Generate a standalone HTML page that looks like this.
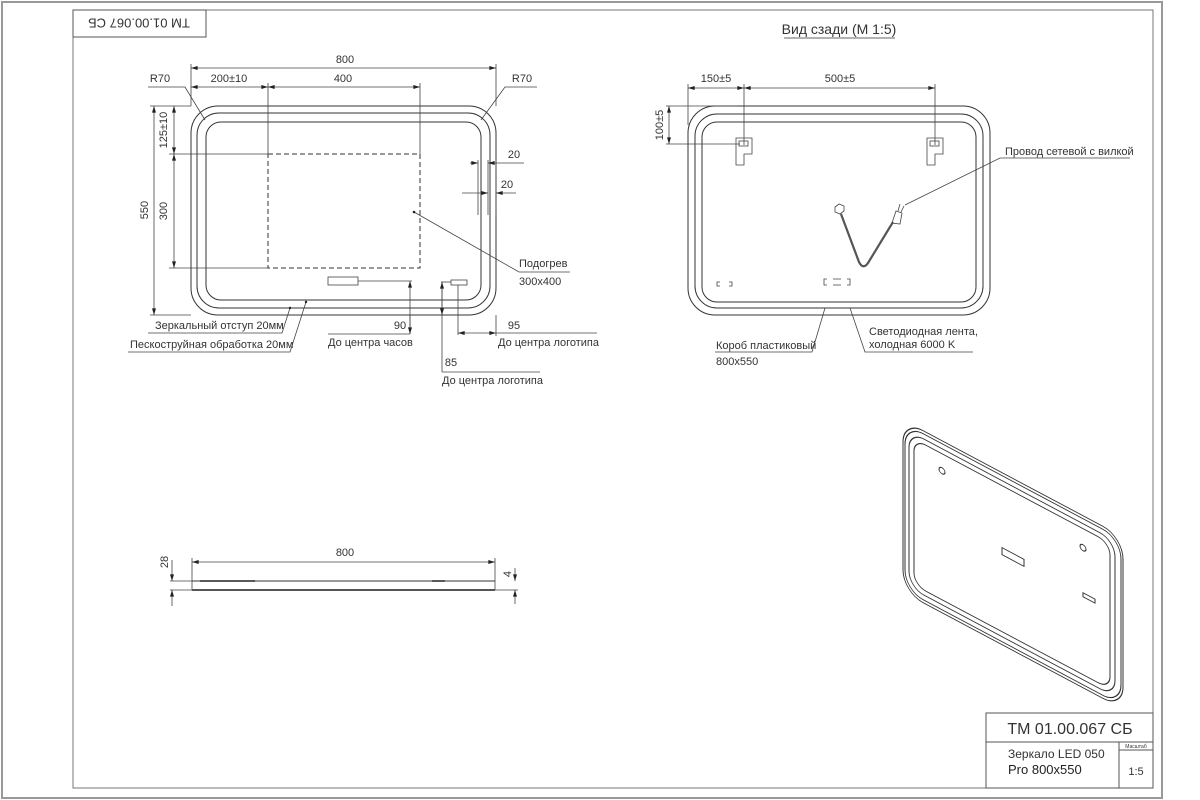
<!DOCTYPE html>
<html><head><meta charset="utf-8"><style>
html,body{margin:0;padding:0;background:#fff;}
svg{display:block;}
text{font-family:"Liberation Sans Narrow","Liberation Sans",sans-serif;fill:#333;}
</style></head><body>
<svg width="1200" height="800" viewBox="0 0 1200 800" xmlns="http://www.w3.org/2000/svg" font-size="11">
<defs>
<marker id="a" viewBox="0 0 10 6" refX="10" refY="3" markerWidth="8" markerHeight="4" orient="auto-start-reverse" markerUnits="userSpaceOnUse"><path d="M0,0L10,3L0,6z" fill="#222"/></marker>
</defs>
<g fill="none" stroke="#555" stroke-width="1">
<rect x="2" y="2" width="1160" height="796" stroke="#999" stroke-width="2"/>
<rect x="73" y="10" width="1080" height="778" stroke="#777"/>
<rect x="73" y="10" width="133" height="27"/>
</g>
<text x="139" y="24" style="font-size:13px" text-anchor="middle" dominant-baseline="middle" transform="rotate(180 139 23)">ТМ 01.00.067 СБ</text>

<!-- FRONT VIEW -->
<g fill="none" stroke="#333" stroke-width="1">
<rect x="191" y="106" width="305" height="209" rx="27" ry="27"/>
<rect x="197" y="113" width="293" height="195" rx="22" ry="22"/>
<rect x="206" y="122" width="275" height="178" rx="15" ry="15"/>
<rect x="268" y="154" width="152" height="114" stroke-dasharray="5,3"/>
</g>
<g fill="none" stroke="#444" stroke-width="0.8">
<line x1="191" y1="64" x2="191" y2="106"/><line x1="496" y1="64" x2="496" y2="106"/>
<line x1="191" y1="68" x2="496" y2="68" marker-start="url(#a)" marker-end="url(#a)"/>
<line x1="191" y1="87" x2="268" y2="87" marker-start="url(#a)" marker-end="url(#a)"/>
<line x1="268" y1="87" x2="420" y2="87" marker-start="url(#a)" marker-end="url(#a)"/>
<line x1="268" y1="83" x2="268" y2="154"/><line x1="420" y1="83" x2="420" y2="154"/>
<polyline points="148,87 185,87 205,120"/>
<polyline points="537,87 505,87 481,120"/>
<line x1="150" y1="106" x2="191" y2="106"/>
<line x1="150" y1="315" x2="191" y2="315"/>
<line x1="169" y1="154" x2="268" y2="154"/>
<line x1="169" y1="268" x2="268" y2="268"/>
<line x1="154" y1="106" x2="154" y2="315" marker-start="url(#a)" marker-end="url(#a)"/>
<line x1="174" y1="106" x2="174" y2="154" marker-start="url(#a)" marker-end="url(#a)"/>
<line x1="174" y1="154" x2="174" y2="268" marker-start="url(#a)" marker-end="url(#a)"/>
<line x1="478" y1="160" x2="478" y2="215"/><line x1="488" y1="160" x2="488" y2="215"/><line x1="496" y1="160" x2="496" y2="215"/>
<line x1="470" y1="163" x2="478" y2="163" marker-end="url(#a)"/><line x1="524" y1="163" x2="488" y2="163" marker-end="url(#a)"/>
<line x1="462" y1="193" x2="488" y2="193" marker-end="url(#a)"/><line x1="516" y1="193" x2="496" y2="193" marker-end="url(#a)"/>
<polyline points="414,212 519,272 570,272"/>
<rect x="328" y="277" width="30" height="8"/>
<line x1="358" y1="281" x2="412" y2="281"/>
<line x1="410" y1="300" x2="410" y2="281" marker-end="url(#a)"/>
<line x1="410" y1="300" x2="410" y2="334"/>
<line x1="410" y1="315" x2="410" y2="334" marker-end="url(#a)"/>
<line x1="328" y1="334" x2="410" y2="334"/>
<rect x="451" y="280" width="16" height="5"/>
<line x1="441" y1="282" x2="451" y2="282"/>
<line x1="442" y1="282" x2="442" y2="372"/>
<line x1="442" y1="300" x2="442" y2="282" marker-end="url(#a)"/>
<line x1="442" y1="300" x2="442" y2="315" marker-end="url(#a)"/>
<line x1="442" y1="372" x2="540" y2="372"/>
<line x1="458" y1="285" x2="458" y2="335"/>
<line x1="496" y1="315" x2="496" y2="336"/>
<line x1="458" y1="333" x2="496" y2="333" marker-start="url(#a)" marker-end="url(#a)"/>
<line x1="496" y1="333" x2="597" y2="333"/>
<polyline points="148,333 282,333 290,308"/>
<polyline points="128,352 290,352 306,302"/>
</g>
<circle cx="414" cy="212" r="1.3" fill="#222"/>
<circle cx="290" cy="308" r="1.2" fill="#222"/>
<circle cx="306" cy="302" r="1.2" fill="#222"/>
<g text-anchor="middle">
<text x="345" y="63">800</text>
<text x="229" y="82">200±10</text>
<text x="343" y="82">400</text>
<text x="160" y="82">R70</text>
<text x="522" y="82">R70</text>
<text x="514" y="158">20</text>
<text x="507" y="188">20</text>
<text x="145" y="210" transform="rotate(-90 145 210)" dominant-baseline="middle">550</text>
<text x="164" y="130" transform="rotate(-90 164 130)" dominant-baseline="middle">125±10</text>
<text x="164" y="211" transform="rotate(-90 164 211)" dominant-baseline="middle">300</text>
<text x="400" y="329">90</text>
<text x="514" y="329">95</text>
<text x="451" y="366">85</text>
</g>
<text x="519" y="267">Подогрев</text>
<text x="519" y="285">300x400</text>
<text x="155" y="329">Зеркальный отступ 20мм</text>
<text x="130" y="348">Пескоструйная обработка 20мм</text>
<text x="328" y="346">До центра часов</text>
<text x="498" y="346">До центра логотипа</text>
<text x="442" y="384">До центра логотипа</text>

<!-- BACK VIEW -->
<text x="839" y="34" style="font-size:14px" text-anchor="middle">Вид сзади (М 1:5)</text>
<line x1="784" y1="38" x2="895" y2="38" stroke="#333" stroke-width="0.8"/>
<g fill="none" stroke="#333" stroke-width="1">
<rect x="688" y="106" width="302" height="209" rx="27" ry="27"/>
<rect x="695" y="114" width="288" height="194" rx="22" ry="22"/>
<rect x="702" y="122" width="274" height="180" rx="15" ry="15"/>
</g>
<g fill="none" stroke="#444" stroke-width="0.8">
<line x1="688" y1="84" x2="688" y2="125"/>
<line x1="744" y1="84" x2="744" y2="145"/>
<line x1="935" y1="84" x2="935" y2="145"/>
<line x1="688" y1="88" x2="744" y2="88" marker-start="url(#a)" marker-end="url(#a)"/>
<line x1="744" y1="88" x2="935" y2="88" marker-start="url(#a)" marker-end="url(#a)"/>
<line x1="666" y1="106" x2="737" y2="106"/>
<line x1="666" y1="144" x2="740" y2="144"/>
<line x1="669" y1="106" x2="669" y2="144" marker-start="url(#a)" marker-end="url(#a)"/>
<path d="M736,138h16v16h-8v11h-8z"/><rect x="739" y="141" width="9" height="5"/>
<path d="M927,138h16v16h-8v11h-8z"/><rect x="930" y="141" width="9" height="5"/>
<path d="M835,207l4,-3l5,2l0,5l-4,3l-5,-2z"/>
<path d="M841,214 L859,262 Q863,270 868,263 L893,222" stroke-width="2.2" stroke="#555"/>
<path d="M892,223 l4,-12 l6,2 l-2,11 z"/>
<path d="M898,211 l2,-7 M901,212 l3,-6"/>
<polyline points="905,205 1000,158 1130,158"/>
<path d="M720,282h-3v4h3 M729,282h3v4h-3"/>
<path d="M827,279h-3v6h3 M833,279h8 M833,285h8 M847,279h3v6h-3"/>
<polyline points="825,308 812,352 715,352"/>
<polyline points="850,308 865,352 973,352"/>
</g>
<g text-anchor="middle">
<text x="716" y="82">150±5</text>
<text x="840" y="82">500±5</text>
<text x="660" y="125" transform="rotate(-90 660 125)" dominant-baseline="middle">100±5</text>
</g>
<text x="1005" y="155">Провод сетевой с вилкой</text>
<text x="716" y="349">Короб пластиковый</text>
<text x="716" y="365">800x550</text>
<text x="869" y="335">Светодиодная лента,</text>
<text x="869" y="348">холодная 6000 K</text>

<!-- SIDE VIEW -->
<g fill="none" stroke="#444" stroke-width="0.8">
<line x1="192" y1="558" x2="192" y2="590"/>
<line x1="495" y1="558" x2="495" y2="590"/>
<line x1="192" y1="562" x2="495" y2="562" marker-start="url(#a)" marker-end="url(#a)"/>
<line x1="170" y1="581" x2="192" y2="581"/>
<line x1="170" y1="590" x2="192" y2="590"/>
<line x1="495" y1="590" x2="518" y2="590"/>
<line x1="172" y1="560" x2="172" y2="581" marker-end="url(#a)"/>
<line x1="172" y1="606" x2="172" y2="590" marker-end="url(#a)"/>
<line x1="515" y1="568" x2="515" y2="581" marker-end="url(#a)"/>
<line x1="515" y1="604" x2="515" y2="590" marker-end="url(#a)"/>
</g>
<line x1="192" y1="581" x2="495" y2="581" stroke="#333" stroke-width="1"/>
<line x1="192" y1="590" x2="495" y2="590" stroke="#555" stroke-width="2"/>
<line x1="200" y1="581" x2="255" y2="581" stroke="#222" stroke-width="1.5"/>
<line x1="432" y1="581" x2="445" y2="581" stroke="#222" stroke-width="1.5"/>
<text x="345" y="556" text-anchor="middle">800</text>
<text x="165" y="562" text-anchor="middle" dominant-baseline="middle" transform="rotate(-90 165 562)">28</text>
<text x="508" y="574" text-anchor="middle" dominant-baseline="middle" transform="rotate(-90 508 574)">4</text>

<!-- ISO VIEW -->
<g transform="translate(903,420) skewY(28)" fill="none" stroke="#333" stroke-width="1">
<rect x="0" y="0" width="220" height="172" rx="20" ry="22"/>
<rect x="2" y="3" width="216" height="166" rx="18" ry="20"/>
<rect x="6" y="8" width="206" height="156" rx="15" ry="16"/>
<rect x="11" y="13" width="196" height="146" rx="12" ry="12"/>
<rect x="99" y="75" width="22" height="7"/>
<rect x="180" y="77" width="12" height="4"/>
<circle cx="39" cy="30" r="3"/>
<circle cx="180" cy="32" r="3"/>
</g>

<!-- TITLE BLOCK -->
<g fill="none" stroke="#555" stroke-width="1">
<rect x="986" y="713" width="167" height="75"/>
<line x1="986" y1="742" x2="1153" y2="742"/>
<line x1="1119" y1="742" x2="1119" y2="788"/>
<line x1="1119" y1="750" x2="1153" y2="750"/>
</g>
<text x="1070" y="734" style="font-size:16px" text-anchor="middle">ТМ 01.00.067 СБ</text>
<text x="1008" y="758" style="font-size:12px">Зеркало LED 050</text>
<text x="1008" y="774" style="font-size:13px;fill:#222">Pro 800x550</text>
<text x="1136" y="748" style="font-size:5px" text-anchor="middle">Масштаб</text>
<text x="1136" y="775" style="font-size:11px" text-anchor="middle">1:5</text>
</svg>
</body></html>
